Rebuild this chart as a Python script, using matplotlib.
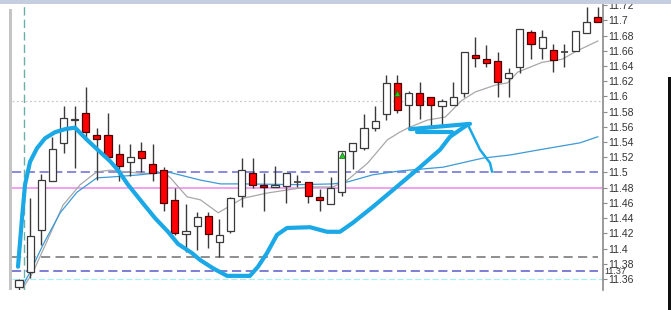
import matplotlib

matplotlib.use("Agg")
import matplotlib.pyplot as plt
from matplotlib.patches import Rectangle

plt.rcParams["font.family"] = ["Liberation Sans", "DejaVu Sans"]

# OHLC, one entry per candle
opens = [11.349, 11.369, 11.424, 11.489, 11.539, 11.569, 11.578, 11.549, 11.549, 11.524,
         11.514, 11.528, 11.511, 11.503, 11.464, 11.419, 11.430, 11.443, 11.409, 11.423,
         11.469, 11.499, 11.484, 11.481, 11.482, 11.488, 11.488, 11.468, 11.459, 11.474,
         11.528, 11.532, 11.559, 11.577, 11.618, 11.589, 11.605, 11.599, 11.588, 11.589,
         11.605, 11.655, 11.649, 11.647, 11.624, 11.639, 11.685, 11.664, 11.661, 11.659,
         11.660, 11.684, 11.705]
highs = [11.360, 11.467, 11.498, 11.547, 11.588, 11.588, 11.612, 11.559, 11.578, 11.538,
         11.538, 11.540, 11.538, 11.507, 11.480, 11.459, 11.448, 11.448, 11.439, 11.468,
         11.519, 11.519, 11.499, 11.509, 11.499, 11.497, 11.488, 11.478, 11.494, 11.528,
         11.539, 11.577, 11.588, 11.628, 11.628, 11.607, 11.619, 11.599, 11.597, 11.619,
         11.659, 11.678, 11.668, 11.659, 11.638, 11.689, 11.688, 11.688, 11.669, 11.669,
         11.686, 11.718, 11.718]
lows = [11.346, 11.361, 11.405, 11.489, 11.526, 11.506, 11.543, 11.490, 11.518, 11.489,
        11.495, 11.501, 11.489, 11.449, 11.418, 11.396, 11.398, 11.401, 11.389, 11.420,
        11.455, 11.480, 11.449, 11.481, 11.460, 11.481, 11.460, 11.449, 11.459, 11.469,
        11.505, 11.530, 11.555, 11.569, 11.578, 11.560, 11.570, 11.560, 11.560, 11.589,
        11.599, 11.639, 11.639, 11.599, 11.599, 11.631, 11.649, 11.649, 11.632, 11.639,
        11.660, 11.684, 11.698]
closes = [11.359, 11.417, 11.490, 11.531, 11.572, 11.571, 11.553, 11.544, 11.520, 11.509,
          11.520, 11.519, 11.499, 11.460, 11.420, 11.423, 11.441, 11.419, 11.418, 11.466,
          11.503, 11.484, 11.481, 11.484, 11.499, 11.488, 11.469, 11.464, 11.480, 11.528,
          11.539, 11.559, 11.568, 11.618, 11.582, 11.605, 11.589, 11.589, 11.594, 11.599,
          11.659, 11.651, 11.644, 11.619, 11.631, 11.689, 11.669, 11.678, 11.648, 11.659,
          11.686, 11.698, 11.698]

# candles carrying the green arrow marker
signal_idx = [29, 34]
signal_price = [11.523, 11.605]

# the two moving averages (candle index, price)
fast_ma_x = [0.36, 1.26, 2.5, 3.95, 5.5, 7.0, 8.2, 10.9, 13.1, 13.6, 15.1, 16.3, 17.9, 20.1,
             22.3, 24.1, 25.9, 28.2, 29.5, 31.3, 33.1, 34.2, 35.0, 36.7, 38.3, 39.8, 41.0,
             42.8, 43.9, 44.8, 47.0, 48.8, 50.0, 52.0]
fast_ma_y = [11.348, 11.369, 11.409, 11.457, 11.484, 11.501, 11.503, 11.499, 11.499, 11.493,
             11.468, 11.464, 11.447, 11.466, 11.473, 11.477, 11.481, 11.481, 11.490, 11.512,
             11.543, 11.553, 11.559, 11.569, 11.573, 11.595, 11.606, 11.615, 11.618, 11.632,
             11.645, 11.649, 11.659, 11.673]
slow_ma_x = [0.36, 1.0, 2.16, 3.7, 5.2, 7.0, 8.2, 10.9, 13.3, 16.3, 18.1, 20.1, 25.2, 28.2,
             29.5, 31.8, 34.2, 38.1, 41.7, 44.1, 46.8, 50.4, 52.0]
slow_ma_y = [11.352, 11.369, 11.405, 11.447, 11.474, 11.493, 11.494, 11.497, 11.501, 11.490,
             11.485, 11.485, 11.484, 11.485, 11.4875, 11.497, 11.502, 11.507, 11.519, 11.523,
             11.530, 11.539, 11.547]

# horizontal levels
dotted_level = 11.594
upper_dash_level = 11.50
pink_level = 11.48
gray_dash_level = 11.389
lower_dash_level = 11.37
cyan_level = 11.36
vline_idx = 0.45

# freehand annotation strokes (candle index, price)
stroke_x = [-0.09, 0.27, 0.54, 0.99, 1.62, 2.34, 3.23, 4.13, 5.03, 6.11, 7.28, 8.18, 8.89,
            9.79, 11.05, 12.22, 13.39, 14.29, 15.54, 16.26, 17.43, 18.69, 20.75, 21.47,
            22.28, 23.18, 24.08, 26.15, 27.67, 28.84, 30.01, 31.81, 33.6, 36.03, 37.83,
            38.72, 40.25]
stroke_y = [11.376, 11.440, 11.484, 11.514, 11.532, 11.545, 11.553, 11.557, 11.559, 11.543,
            11.527, 11.515, 11.503, 11.484, 11.461, 11.440, 11.422, 11.406, 11.394, 11.385,
            11.374, 11.364, 11.364, 11.376, 11.394, 11.418, 11.427, 11.428, 11.422, 11.422,
            11.434, 11.455, 11.477, 11.507, 11.530, 11.547, 11.5625]
head1_x = [35.13, 40.52]
head1_y = [11.557, 11.564]
head2_x = [35.76, 38.9]
head2_y = [11.553, 11.553]
tail_x = [40.34, 41.42, 42.32, 42.5]
tail_y = [11.5625, 11.530, 11.5125, 11.501]

ticks = [11.36, 11.38, 11.40, 11.42, 11.44, 11.46, 11.48, 11.50, 11.52, 11.54, 11.56,
         11.58, 11.60, 11.62, 11.64, 11.66, 11.68, 11.70, 11.72]
tick_labels = ["11.36", "11.38", "11.4", "11.42", "11.44", "11.46", "11.48", "11.5", "11.52",
               "11.54", "11.56", "11.58", "11.6", "11.62", "11.64", "11.66", "11.68", "11.7",
               "11.72"]

W, H = 671, 310
fig = plt.figure(figsize=(W / 100, H / 100), dpi=100)
fig.patch.set_facecolor("white")
ax = fig.add_axes([12 / W, 20 / H, 591 / W, 286 / H])
ax.set_xlim(-0.63, 52.47)
ax.set_ylim(11.3454, 11.7217)

# levels
ax.axhline(dotted_level, color="#c8c8c8", lw=0.9, ls=(0, (1.5, 2)), zorder=1)
ax.plot([-0.63, 52.05], [upper_dash_level] * 2, color="#6b6bd6", lw=1.1, ls=(0, (6, 3)), zorder=1)
ax.axhline(pink_level, color="#ee88ee", lw=1.1, zorder=1)
ax.plot([-0.63, 52.05], [gray_dash_level] * 2, color="#707070", lw=1.1, ls=(0, (6, 3.5)), zorder=1)
ax.plot([-0.63, 52.05], [lower_dash_level] * 2, color="#5a5ac8", lw=1.1, ls=(0, (6, 3)), zorder=1)
ax.axhline(cyan_level, color="#a8eef2", lw=0.9, ls=(0, (5, 2)), zorder=1)
ax.axvline(vline_idx, color="#6aaea6", lw=1.0, ls=(0, (6, 3)), zorder=1)

# moving averages
ax.plot(fast_ma_x, fast_ma_y, color="#a8a8a8", lw=0.9, zorder=2)
ax.plot(slow_ma_x, slow_ma_y, color="#3d9ad8", lw=0.9, zorder=2)

# candles
width = 0.64
for i, (o, h, l, c) in enumerate(zip(opens, highs, lows, closes)):
    up = c >= o
    lo, hi = min(o, c), max(o, c)
    ax.vlines(i, l, lo, color="#3a3a3a", lw=1.0, zorder=3)
    ax.vlines(i, hi, h, color="#3a3a3a", lw=1.0, zorder=3)
    if hi - lo < 0.0012:
        ax.hlines((o + c) / 2, i - width / 2, i + width / 2, color="#3a3a3a", lw=1.2, zorder=4)
        continue
    face = "white" if up else "#ff0000"
    edge = "#3a3a3a" if up else "#4a0000"
    ax.add_patch(Rectangle((i - width / 2, lo), width, hi - lo, facecolor=face,
                           edgecolor=edge, lw=0.9, zorder=4))

ax.scatter(signal_idx, signal_price, marker="^", s=18, color="#22cc22",
           edgecolor="#116611", linewidths=0.5, zorder=5)

# hand drawn annotation
pen = dict(color="#1aa8e6", lw=3.0, solid_capstyle="round", solid_joinstyle="round", zorder=6)
ax.plot(stroke_x, stroke_y, **pen)
ax.plot(head1_x, head1_y, **pen)
ax.plot(head2_x, head2_y, **pen)
ax.plot(tail_x, tail_y, color="#1aa8e6", lw=1.8, solid_capstyle="round", zorder=6)

# axes styling
for side in ("top", "bottom", "left"):
    ax.spines[side].set_visible(False)
ax.spines["right"].set_color("#8a8a8a")
ax.spines["right"].set_linewidth(1.2)
ax.set_xticks([])
ax.yaxis.tick_right()
ax.set_yticks(ticks)
ax.set_yticklabels(tick_labels)
ax.tick_params(axis="y", length=3, width=0.8, color="#8a8a8a", pad=0.5,
               labelsize=7.5, labelcolor="#333333")
# extra price label for the lower dashed level, squeezed between its neighbours
ax.text(1.003, lower_dash_level - 0.0008, "11.37", transform=ax.get_yaxis_transform(),
        ha="left", va="center", fontsize=6.5, color="#333333")

# window chrome around the chart
fig.patches.append(Rectangle((0, (H - 4) / H), 1, 4 / H, transform=fig.transFigure,
                             facecolor="#c5cde0", edgecolor="none", zorder=10))
fig.patches.append(Rectangle((9 / W, 20 / H), 3 / W, 281 / H, transform=fig.transFigure,
                             facecolor="#c4c4c4", edgecolor="none", zorder=10))
fig.patches.append(Rectangle((668 / W, 0), 3 / W, 233 / H, transform=fig.transFigure,
                             facecolor="#101010", edgecolor="none", zorder=10))

fig.savefig("out.png", dpi=100)
